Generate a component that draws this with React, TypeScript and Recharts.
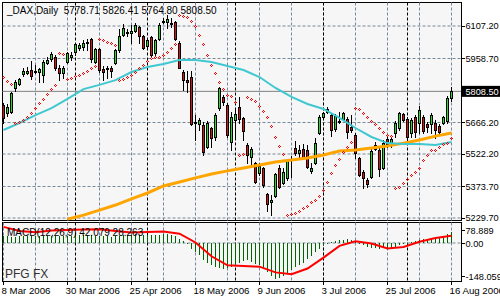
import React from "react";
import { ComposedChart, Bar, Line, XAxis, YAxis, CartesianGrid } from "recharts";

// bar index 0 = 8 Mar 2006 ... 112 = 16 Aug 2006
const opens = [
  5746, 5710, 5714, 5824, 5842, 5888, 5892, 5906, 5902, 5897,
  5883, 5938, 5956, 5966, 5915, 5892, 5943, 5966, 5988, 6007,
  6011, 6029, 6048, 5943, 6002, 5911, 5911, 5915, 5938, 5998,
  6066, 6075, 6075, 6084, 6103, 6061, 6016, 6057, 5984, 6048,
  6125, 6125, 6121, 6125, 6029, 5897, 5860, 5874, 5668, 5659,
  5655, 5554, 5641, 5600, 5732, 5783, 5746, 5577, 5678, 5737,
  5687, 5563, 5509, 5481, 5435, 5458, 5339, 5303, 5330, 5458,
  5390, 5413, 5495, 5550, 5527, 5545, 5540, 5445, 5481, 5618,
  5691, 5714, 5700, 5636, 5673, 5682, 5682, 5646, 5609, 5504,
  5440, 5403, 5417, 5545, 5540, 5458, 5591, 5572, 5618, 5641,
  5705, 5682, 5618, 5691, 5664, 5691, 5659, 5659, 5664, 5650,
  5664, 5673, 5778.71,
];
const highs = [
  5755, 5751, 5806, 5860, 5870, 5915, 5920, 5947, 5929, 5915,
  5952, 5966, 5988, 5975, 5929, 5924, 5988, 5988, 6029, 6029,
  6043, 6048, 6052, 6007, 6007, 5924, 5924, 5924, 6000, 6093,
  6116, 6093, 6112, 6121, 6107, 6066, 6052, 6061, 6048, 6121,
  6144, 6157, 6144, 6130, 6039, 5906, 5902, 5902, 5700, 5687,
  5668, 5673, 5646, 5710, 5830, 5792, 5755, 5714, 5723, 5783,
  5691, 5572, 5554, 5486, 5481, 5463, 5344, 5335, 5435, 5472,
  5458, 5499, 5513, 5582, 5563, 5568, 5563, 5481, 5595, 5700,
  5714, 5737, 5710, 5705, 5714, 5712, 5691, 5700, 5618, 5509,
  5449, 5413, 5550, 5577, 5550, 5586, 5604, 5600, 5673, 5712,
  5710, 5691, 5687, 5700, 5742, 5700, 5668, 5710, 5678, 5659,
  5696, 5787, 5826.41,
];
const lows = [
  5664, 5696, 5710, 5810, 5838, 5879, 5888, 5865, 5892, 5851,
  5851, 5934, 5947, 5906, 5860, 5870, 5938, 5952, 5975, 5998,
  5998, 5998, 5943, 5938, 5897, 5860, 5870, 5874, 5934, 5988,
  6061, 6061, 6029, 6080, 6029, 6002, 6007, 5970, 5975, 6043,
  6121, 6098, 6103, 6043, 5913, 5815, 5806, 5657, 5586, 5632,
  5518, 5550, 5554, 5586, 5723, 5746, 5600, 5540, 5600, 5664,
  5586, 5481, 5472, 5388, 5426, 5371, 5262, 5243, 5326, 5367,
  5385, 5403, 5417, 5518, 5509, 5504, 5458, 5435, 5477, 5614,
  5687, 5710, 5604, 5627, 5664, 5678, 5595, 5623, 5504, 5422,
  5367, 5371, 5413, 5540, 5422, 5454, 5554, 5554, 5600, 5632,
  5673, 5577, 5600, 5600, 5618, 5618, 5623, 5618, 5595, 5609,
  5659, 5664, 5764.8,
];
const closes = [
  5687, 5737, 5801, 5851, 5865, 5902, 5902, 5879, 5900, 5911,
  5943, 5952, 5979, 5915, 5892, 5915, 5984, 5975, 6025, 6020,
  6029, 6034, 5956, 6002, 5906, 5897, 5915, 5902, 5998, 6061,
  6098, 6080, 6084, 6112, 6061, 6007, 6043, 5975, 6043, 6112,
  6130, 6139, 6120, 6048, 5915, 5860, 5851, 5659, 5666, 5678,
  5531, 5664, 5595, 5700, 5826, 5760, 5609, 5691, 5705, 5682,
  5627, 5518, 5545, 5394, 5467, 5381, 5294, 5312, 5431, 5371,
  5440, 5490, 5499, 5527, 5540, 5509, 5463, 5458, 5572, 5691,
  5710, 5728, 5632, 5696, 5668, 5708, 5623, 5632, 5527, 5426,
  5413, 5385, 5536, 5563, 5454, 5572, 5568, 5591, 5664, 5708,
  5678, 5600, 5678, 5623, 5723, 5627, 5646, 5700, 5632, 5623,
  5691, 5778, 5808.5,
];
// parabolic SAR, one per bar
const sar = [
  5874, 5856, 5842, 5664, 5668, 5678, 5691, 5710, 5732, 5755,
  5774, 5796, 5819, 5838, 5984, 5979, 5865, 5870, 5879, 5883,
  5892, 5902, 5915, 5924, 6048, 6043, 6034, 6029, 6020, 5860,
  5865, 5874, 5883, 5897, 5915, 5929, 5947, 5961, 5966, 5966,
  5975, 5988, 6007, 6025, 6157, 6153, 6148, 6130, 6107, 6066,
  6025, 5975, 5929, 5892, 5851, 5819, 5792, 5787, 5760, 5518,
  5522, 5783, 5774, 5764, 5742, 5719, 5691, 5650, 5600, 5559,
  5522, 5243, 5248, 5253, 5262, 5275, 5285, 5303, 5312, 5330,
  5358, 5394, 5435, 5472, 5499, 5531, 5554, 5577, 5732, 5728,
  5710, 5691, 5673, 5659, 5641, 5623, 5609, 5604, 5367, 5371,
  5390, 5408, 5426, 5440, 5458, 5495, 5518, 5540, 5540, 5554,
  5568, 5572, 5595,
];
// moving averages, read every 4th bar
const maFast = [
  5632, 5664, 5700, 5732, 5774, 5819, 5838, 5860, 5897, 5920,
  5934, 5952, 5952, 5943, 5924, 5906, 5874, 5824, 5783, 5751,
  5728, 5687, 5641, 5600, 5572, 5568, 5568, 5563, 5577,
];
const maSlow = [
  null, null, null, null, 5224, 5243, 5266, 5289, 5317, 5344,
  5376, 5394, 5413, 5431, 5445, 5458, 5472, 5486, 5495, 5504,
  5518, 5536, 5540, 5550, 5559, 5572, 5586, 5604, 5618,
];
// MACD(12,26,9) main per bar, signal every 4th bar
const macdMain = [
  27, 26, 25, 25, 26, 27, 27, 26, 26, 26,
  27, 28, 28, 27, 26, 26, 27, 28, 29, 29,
  30, 30, 29, 28, 27, 26, 26, 25, 26, 28,
  30, 31, 32, 33, 32, 31, 30, 29, 30, 32,
  33, 34, 32, 28, 16, 6, -4, -22, -35, -48,
  -65, -78, -86, -92, -98, -100, -98, -94, -87, -78,
  -70, -66, -72, -80, -86, -96, -110, -126, -140, -134,
  -126, -114, -104, -94, -86, -76, -62, -50, -35, -22,
  -10, -2, 4, 8, 11, 13, 14, 12, 6, 0,
  -8, -14, -18, -20, -22, -21, -20, -18, -14, -8,
  -3, 1, 4, 7, 11, 14, 16, 18, 20, 22,
  26, 34, 42.079,
];
const macdSignal = [
  62, 46, 41, 48, 50, 52, 53, 46, 40, 42,
  44, 36, 2, -51, -86, -88, -91, -113, -120, -98,
  -56, -11, 7, -2, -21, -15, 5, 19, 28.263,
];

const dateTicks = [0, 16, 32, 48, 64, 80, 96, 112];
const dateLabels = ["8 Mar 2006", "30 Mar 2006", "25 Apr 2006", "18 May 2006",
  "9 Jun 2006", "3 Jul 2006", "25 Jul 2006", "16 Aug 2006"];
const gridBars = [0, 8, 16, 24, 32, 40, 48, 56, 64, 72, 80, 88, 96, 104, 112];
const monthBars = [18, 36, 58, 80, 101];
const priceTicks = [6107.2, 5958.7, 5808.5, 5666.2, 5522.2, 5373.7, 5229.7];
const priceGrid = [6107.2, 5958.7, 5666.2, 5522.2, 5373.7, 5229.7];
const lastClose = 5808.5;
const macdTicks = [78.889, 0, -148.059];
const macdTickText = ["78.889", "0.00", "-148.059"];

const rows = opens.map((o, i) => ({
  i, o, h: highs[i], l: lows[i], c: closes[i],
  range: [lows[i], highs[i]],
  sar: sar[i],
  fast: i % 4 === 0 ? maFast[i / 4] : null,
  slow: i % 4 === 0 ? maSlow[i / 4] : null,
}));
const macdRows = macdMain.map((m, i) => ({
  i, macd: m,
  signal: i % 4 === 0 ? macdSignal[i / 4] : null,
}));

const FONT = "Liberation Sans, Arial, sans-serif";
const AXIS_FS = 9.2;
const UP = "#22e022";
const DOWN = "#dd1010";
const GRID = "#778899";
const PLOT_BG = "#f6f6f6";
const X_DOMAIN = [-0.25, 114.5];

function Candle(props: any) {
  const { x, y, width, height, payload } = props;
  if (x == null || !payload) return <g />;
  const { o, h, l, c } = payload;
  const yTop = Math.min(y, y + height);
  const yBot = Math.max(y, y + height);
  const k = h > l ? (yBot - yTop) / (h - l) : 0;
  const py = (v: number) => yTop + (h - v) * k;
  const col = Math.floor(x + width / 2);
  const bTop = Math.round(py(Math.max(o, c)));
  const bBot = Math.round(py(Math.min(o, c)));
  return (
    <g shapeRendering="crispEdges">
      <line x1={col + 0.5} x2={col + 0.5} y1={Math.round(yTop)} y2={Math.round(yBot) + 1} stroke="#000" />
      <rect x={col - 0.5} y={bTop + 0.5} width={2} height={Math.max(bBot - bTop, 1)}
        fill={c >= o ? UP : DOWN} stroke="#000" />
    </g>
  );
}

function MacdBar(props: any) {
  const { x, y, width, height } = props;
  if (x == null) return <g />;
  const col = Math.floor(x + width / 2);
  const top = Math.round(Math.min(y, y + height));
  const bot = Math.round(Math.max(y, y + height));
  return <rect x={col} y={top} width={1} height={Math.max(bot - top, 1)} fill="#006400" shapeRendering="crispEdges" />;
}

function SarDot(props: any) {
  const { cx, cy, index } = props;
  if (cx == null || cy == null) return <g key={`s${index}`} />;
  const c = Math.floor(cx);
  const r = Math.round(cy);
  return (
    <g key={`s${index}`} fill="#ff0000" shapeRendering="crispEdges">
      <rect x={c} y={r - 1} width={1} height={1} />
      <rect x={c - 1} y={r} width={1} height={1} />
      <rect x={c + 1} y={r} width={1} height={1} />
      <rect x={c} y={r + 1} width={1} height={1} />
    </g>
  );
}

function PriceTick({ y, payload }: any) {
  const v = payload.value;
  const last = v === lastClose;
  return (
    <g>
      <line x1={461} x2={465} y1={Math.round(y) + 0.5} y2={Math.round(y) + 0.5} stroke="#000" />
      {last && <rect x={462} y={y - 5.5} width={38} height={11} fill="#000" />}
      <text x={465.5} y={y} dy="0.35em" fontSize={AXIS_FS} fontFamily={FONT} fill={last ? "#fff" : "#000"}>
        {v.toFixed(2)}
      </text>
    </g>
  );
}

function MacdTick({ y, payload, index }: any) {
  const shift = index === 0 ? 7 : index === 2 ? -6 : 0;
  const ty = Math.round(y + shift) + 0.5;
  return (
    <g>
      <line x1={461} x2={465} y1={ty} y2={ty} stroke="#000" />
      <text x={465.5} y={ty} dy="0.35em" fontSize={AXIS_FS} fontFamily={FONT} fill="#000">
        {macdTickText[macdTicks.indexOf(payload.value)]}
      </text>
    </g>
  );
}

function DateTick({ x, payload }: any) {
  const col = Math.floor(x) + 0.5;
  return (
    <g>
      <line x1={col} x2={col} y1={60} y2={63} stroke="#000" />
      <text x={x - 2} y={71.5} fontSize={AXIS_FS + 0.5} fontFamily={FONT} fill="#000" textAnchor="start">
        {dateLabels[dateTicks.indexOf(payload.value)]}
      </text>
    </g>
  );
}

export default function App() {
  return (
    <div style={{ position: "absolute", left: 0, top: 0, width: 500, height: 300, background: "#fff", overflow: "hidden" }}>
      <div style={{ position: "absolute", left: 2, top: 2, width: 460, height: 219, boxSizing: "border-box", border: "1px solid #000", background: PLOT_BG }} />
      <div style={{ position: "absolute", left: 2, top: 222, width: 460, height: 60, boxSizing: "border-box", border: "1px solid #000", background: PLOT_BG }} />

      <div style={{ position: "absolute", left: 0, top: 0 }}>
        <ComposedChart width={500} height={222} data={rows}
          margin={{ top: 2.5, right: 0, bottom: 1.5, left: 2.5 }}>
          <XAxis type="number" dataKey="i" domain={X_DOMAIN} hide allowDataOverflow />
          <YAxis orientation="right" type="number" domain={[5218.3, 6214.6]} allowDataOverflow
            ticks={priceTicks} interval={0} width={38.5} axisLine={false} tickLine={false}
            tick={(p: any) => <PriceTick {...p} />} />
          <CartesianGrid stroke={GRID} strokeDasharray="3 2" verticalValues={gridBars} horizontalValues={priceGrid} />
          <CartesianGrid stroke="#000" strokeDasharray="3 2" horizontal={false} verticalValues={monthBars} />
          <CartesianGrid stroke="#808080" vertical={false} horizontalValues={[lastClose]} />
          <Bar dataKey="range" barSize={3} shape={(p: any) => <Candle {...p} />} isAnimationActive={false} />
          <Line dataKey="slow" type="linear" stroke="#ffa500" strokeWidth={3} dot={false} activeDot={false}
            connectNulls isAnimationActive={false} />
          <Line dataKey="fast" type="linear" stroke="#40c8d0" strokeWidth={2} dot={false} activeDot={false}
            connectNulls isAnimationActive={false} />
          <Line dataKey="sar" stroke="none" dot={SarDot} activeDot={false} isAnimationActive={false} />
        </ComposedChart>
      </div>

      <div style={{ position: "absolute", left: 0, top: 222 }}>
        <ComposedChart width={500} height={78} data={macdRows}
          margin={{ top: 0.5, right: 0, bottom: 0, left: 2.5 }}>
          <XAxis type="number" dataKey="i" domain={X_DOMAIN} allowDataOverflow ticks={dateTicks} interval={0}
            height={18.5} axisLine={false} tickLine={false} tick={(p: any) => <DateTick {...p} />} />
          <YAxis orientation="right" type="number" domain={[-148.059, 78.889]} allowDataOverflow
            ticks={macdTicks} interval={0} width={38.5} axisLine={false} tickLine={false}
            tick={(p: any) => <MacdTick {...p} />} />
          <CartesianGrid stroke={GRID} strokeDasharray="3 2" verticalValues={gridBars} horizontalValues={[0]} />
          <CartesianGrid stroke="#000" strokeDasharray="3 2" horizontal={false} verticalValues={monthBars} />
          <Bar dataKey="macd" barSize={1} shape={(p: any) => <MacdBar {...p} />} isAnimationActive={false} />
          <Line dataKey="signal" type="linear" stroke="#ff0000" strokeWidth={2} dot={false} activeDot={false}
            connectNulls isAnimationActive={false} />
        </ComposedChart>
      </div>

      <svg width={500} height={300} style={{ position: "absolute", left: 0, top: 0, pointerEvents: "none" }}>
        <text x={7} y={14} fontSize={10} fontFamily={FONT} fill="#000" xmlSpace="preserve">
          {"_DAX,Daily  5778.71 5826.41 5764.80 5808.50"}
        </text>
        <text x={7} y={236} fontSize={10} fontFamily={FONT} fill="#000">MACD(12,26,9) 42.079 28.263</text>
        <text x={5} y={278} fontSize={12} fontFamily={FONT} fill="#333">PFG FX</text>
      </svg>
    </div>
  );
}
